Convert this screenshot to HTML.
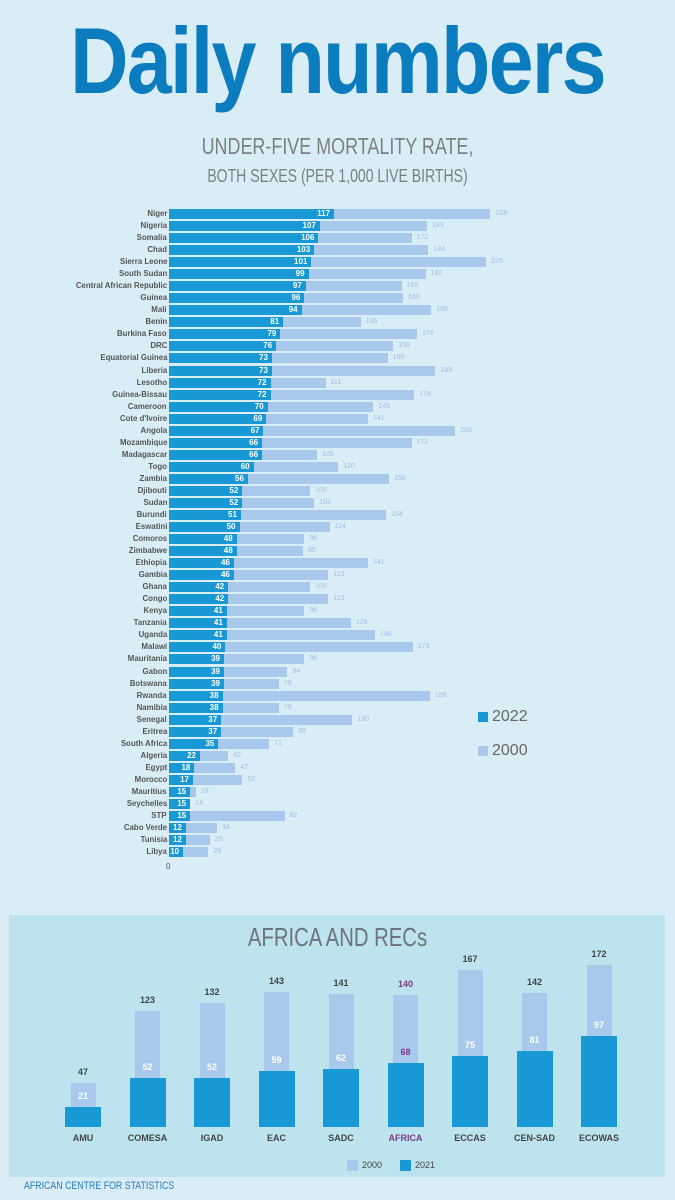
<!DOCTYPE html>
<html><head><meta charset="utf-8"><style>
body{margin:0;width:675px;height:1200px;background:#d9edf7;position:relative;overflow:hidden;font-family:"Liberation Sans",sans-serif}
.abs{position:absolute}
.t{left:0;width:675px;text-align:center}
.lbl{position:absolute;right:508px;font-size:8px;font-weight:bold;color:#555;white-space:nowrap;line-height:12px;transform:scaleX(0.98);transform-origin:right}
.d{position:absolute;height:10px;background:#1899d5}
.l{position:absolute;height:10px;background:#a9c9ec}
.dv{position:absolute;font-size:8px;font-weight:bold;color:#fff;line-height:10px;text-align:right}
.lv{position:absolute;font-size:7px;color:#9fbfe6;line-height:10px}
</style></head><body>
<div class="abs t" style="top:8px;font-size:94px;font-weight:bold;color:#0b7cbd;letter-spacing:-2px;transform:scaleX(0.86);line-height:105px">Daily numbers</div>
<div class="abs t" style="top:133px;font-size:23px;color:#7c7f86;transform:scaleX(0.78)">UNDER-FIVE MORTALITY RATE,</div>
<div class="abs t" style="top:166px;font-size:18px;color:#7c7f86;transform:scaleX(0.78)">BOTH SEXES (PER 1,000 LIVE BIRTHS)</div>
<div id="c"></div>
<div class="abs" style="left:166px;top:862px;font-size:8px;color:#555">0</div>
<div class="abs" style="left:478px;top:712px;width:10px;height:10px;background:#1899d5"></div>
<div class="abs" style="left:492px;top:708px;font-size:16px;color:#666">2022</div>
<div class="abs" style="left:478px;top:746px;width:10px;height:10px;background:#a9c9ec"></div>
<div class="abs" style="left:492px;top:742px;font-size:16px;color:#666">2000</div>
<div class="abs" style="left:9px;top:915px;width:656px;height:262px;background:#bce3ee"></div>
<div class="abs t" style="top:922px;font-size:26px;color:#6f737a;transform:scaleX(0.78)">AFRICA AND RECs</div>
<div id="r"></div>
<div class="abs" style="left:347px;top:1160px;width:11px;height:11px;background:#a9c9ec"></div>
<div class="abs" style="left:362px;top:1160px;font-size:9px;color:#444">2000</div>
<div class="abs" style="left:400px;top:1160px;width:11px;height:11px;background:#1899d5"></div>
<div class="abs" style="left:415px;top:1160px;font-size:9px;color:#444">2021</div>
<div class="abs" style="left:24px;top:1180px;font-size:11px;color:#2a7bb5;transform:scaleX(0.8);transform-origin:left">AFRICAN CENTRE FOR STATISTICS</div>
<script>
var D=[["Niger",117,228],["Nigeria",107,183],["Somalia",106,172],["Chad",103,184],["Sierra Leone",101,225],["South Sudan",99,182],["Central African Republic",97,165],["Guinea",96,166],["Mali",94,186],["Benin",81,136],["Burkina Faso",79,176],["DRC",76,159],["Equatorial Guinea",73,155],["Liberia",73,189],["Lesotho",72,111],["Guinea-Bissau",72,174],["Cameroon",70,145],["Cote d'Ivoire",69,141],["Angola",67,203],["Mozambique",66,172],["Madagascar",66,105],["Togo",60,120],["Zambia",56,156],["Djibouti",52,100],["Sudan",52,103],["Burundi",51,154],["Eswatini",50,114],["Comoros",48,96],["Zimbabwe",48,95],["Ethiopia",46,141],["Gambia",46,113],["Ghana",42,100],["Congo",42,113],["Kenya",41,96],["Tanzania",41,129],["Uganda",41,146],["Malawi",40,173],["Mauritania",39,96],["Gabon",39,84],["Botswana",39,78],["Rwanda",38,185],["Namibia",38,78],["Senegal",37,130],["Eritrea",37,88],["South Africa",35,71],["Algeria",22,42],["Egypt",18,47],["Morocco",17,52],["Mauritius",15,19],["Seychelles",15,14],["STP",15,82],["Cabo Verde",12,34],["Tunisia",12,29],["Libya",10,28]];
var h="",s=1.41,x0=169;
D.forEach(function(d,i){var y=209+i*12.04;var dw=d[1]*s,lw=Math.max(d[2],d[1])*s;
h+='<div class="lbl" style="top:'+(y-1)+'px">'+d[0]+'</div>';
h+='<div class="l" style="left:'+x0+'px;top:'+y+'px;width:'+lw+'px"></div>';
h+='<div class="d" style="left:'+x0+'px;top:'+y+'px;width:'+dw+'px"></div>';
h+='<div class="dv" style="left:'+x0+'px;top:'+y+'px;width:'+(dw-4)+'px">'+d[1]+'</div>';
h+='<div class="lv" style="left:'+(x0+lw+5)+'px;top:'+y+'px">'+d[2]+'</div>';});
document.getElementById("c").innerHTML=h;
var R=[["AMU",47,21],["COMESA",123,52],["IGAD",132,52],["EAC",143,59],["SADC",141,62],["AFRICA",140,68],["ECCAS",167,75],["CEN-SAD",142,81],["ECOWAS",172,97]];
var g="",b=1127,k=0.942;
R.forEach(function(r,i){var cx=83+i*64.5;var c=r[0]=="AFRICA"?"#7a3a8a":"#444";var h1=r[1]*k,h2=r[2]*k;
g+='<div class="abs" style="left:'+(cx-12.5)+'px;top:'+(b-h1)+'px;width:25px;height:'+h1+'px;background:#a9c9ec"></div>';
g+='<div class="abs" style="left:'+(cx-18)+'px;top:'+(b-h2)+'px;width:36px;height:'+h2+'px;background:#1899d5"></div>';
g+='<div class="abs" style="left:'+(cx-25)+'px;width:50px;text-align:center;top:'+(b-h1-16)+'px;font-size:9px;font-weight:bold;color:'+c+'">'+r[1]+'</div>';
g+='<div class="abs" style="left:'+(cx-25)+'px;width:50px;text-align:center;top:'+(b-h2-16)+'px;font-size:9px;font-weight:bold;color:'+(r[0]=="AFRICA"?"#7a3a8a":"#fff")+'">'+r[2]+'</div>';
g+='<div class="abs" style="left:'+(cx-35)+'px;width:70px;text-align:center;top:'+(b+6)+'px;font-size:9px;font-weight:bold;color:'+c+'">'+r[0]+'</div>';});
document.getElementById("r").innerHTML=g;
</script>
</body></html>
